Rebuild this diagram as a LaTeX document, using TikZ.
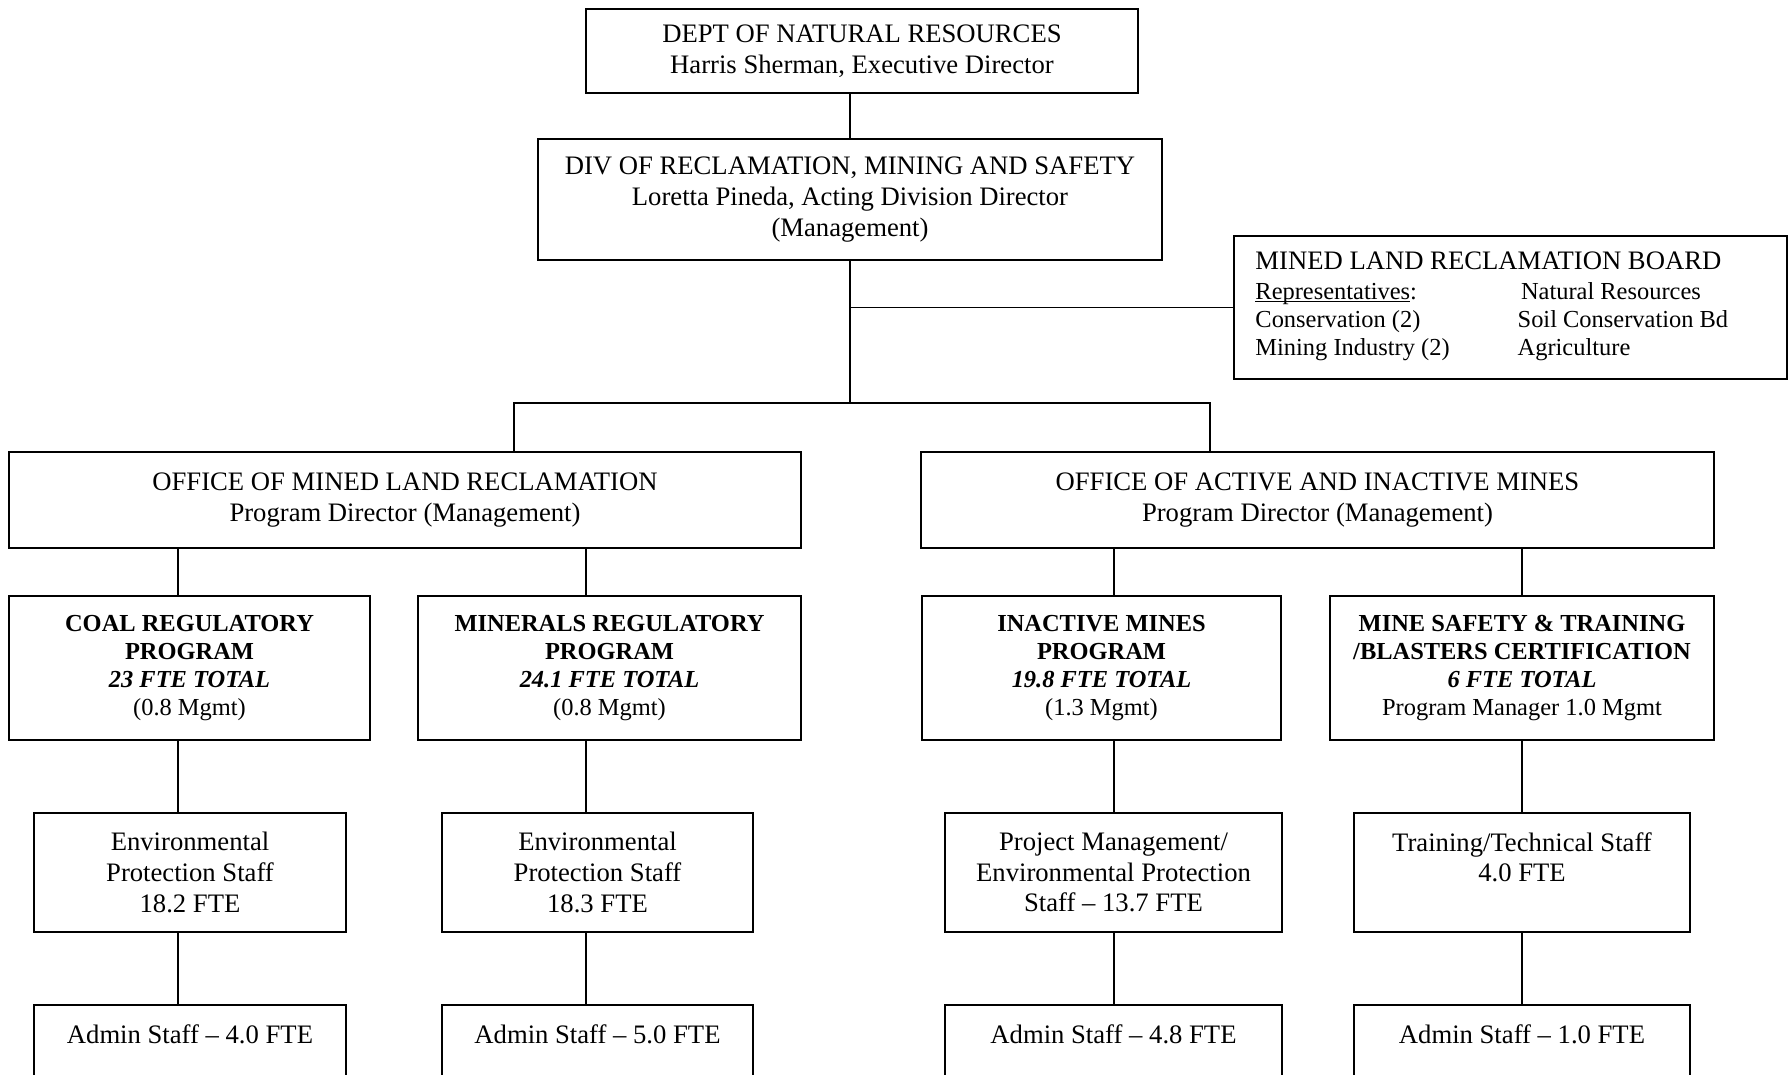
\documentclass[tikz,border=0pt]{standalone}
\usepackage{fontspec}
\setmainfont{Liberation Serif}
\newcommand{\undr}[1]{\leavevmode\setbox0\hbox{#1}\rlap{\rule[-1.3pt]{\wd0}{0.5pt}}#1}

\begin{document}
\begin{tikzpicture}[x=0.45pt,y=-0.45pt,
	box/.style={draw,thick,align=center,inner sep=3pt,font=\fontsize{12}{13.8}\selectfont},
	prog/.style={box,minimum height=64.8pt,font=\fontsize{11}{12.5}\selectfont},
	staff/.style={box,minimum height=53.6pt},
	link/.style={thick}]
	\useasboundingbox (0,0) rectangle (1790,1075);
	% department and division
	\node[box,minimum width=248.4pt,minimum height=37.8pt] (dnr) at (862,51) {DEPT OF NATURAL RESOURCES\\Harris Sherman, Executive Director};
	\node[box,minimum width=280.8pt,minimum height=54.5pt] (drms) at (850,199.5) {DIV OF RECLAMATION, MINING AND SAFETY\\Loretta Pineda, Acting Division Director\\(Management)};
	% board
	\node[box,minimum width=248.9pt,minimum height=64.4pt] (board) at (1510.5,307.5) {};
	\node[anchor=base west,inner sep=0pt,font=\fontsize{11}{12.6}\selectfont] (boardtxt) at (1255,269) {\begin{tabular}[t]{@{}p{118pt}@{}l@{}}
		\multicolumn{2}{@{}l@{}}{\fontsize{12}{13.8}\selectfont MINED LAND RECLAMATION BOARD}\\[1pt]
		\undr{Representatives}: & \hspace{1.5pt}Natural Resources\\
		Conservation (2) & Soil Conservation Bd\\
		Mining Industry (2) & Agriculture
	\end{tabular}};
	% offices
	\node[box,minimum width=356.4pt,minimum height=43.2pt] (omlr) at (405,500) {OFFICE OF MINED LAND RECLAMATION\\Program Director (Management)};
	\node[box,minimum width=356.9pt,minimum height=43.2pt] (oaim) at (1317.5,500) {OFFICE OF ACTIVE AND INACTIVE MINES\\Program Director (Management)};
	% programs
	\node[prog,minimum width=162.5pt] (coal) at (189.5,668) {\textbf{COAL REGULATORY}\\\textbf{PROGRAM}\\\textbf{\textit{23 FTE TOTAL}}\\(0.8 Mgmt)};
	\node[prog,minimum width=172.4pt] (minerals) at (609.5,668) {\textbf{MINERALS REGULATORY}\\\textbf{PROGRAM}\\\textbf{\textit{24.1 FTE TOTAL}}\\(0.8 Mgmt)};
	\node[prog,minimum width=161.6pt] (inactive) at (1101.5,668) {\textbf{INACTIVE MINES}\\\textbf{PROGRAM}\\\textbf{\textit{19.8 FTE TOTAL}}\\(1.3 Mgmt)};
	\node[prog,minimum width=172.8pt] (safety) at (1522,668) {\textbf{MINE SAFETY \& TRAINING}\\\textbf{/BLASTERS CERTIFICATION}\\\textbf{\textit{6 FTE TOTAL}}\\Program Manager 1.0 Mgmt};
	% staff
	\node[staff,minimum width=140.4pt] (envc) at (190,872.5) {Environmental\\Protection Staff\\18.2 FTE};
	\node[staff,minimum width=140pt] (envm) at (597.5,872.5) {Environmental\\Protection Staff\\18.3 FTE};
	\node[staff,minimum width=151.7pt] (projm) at (1113.5,872.5) {Project Management/\\Environmental Protection\\Staff -- 13.7 FTE};
	\node[staff,minimum width=151.2pt] (train) at (1522,872.5) {Training/Technical Staff\\4.0 FTE\\~};
	% admin
	\node[staff,minimum width=140.4pt] (admc) at (190,1064.5) {Admin Staff -- 4.0 FTE\\~\\~};
	\node[staff,minimum width=140pt] (admm) at (597.5,1064.5) {Admin Staff -- 5.0 FTE\\~\\~};
	\node[staff,minimum width=151.7pt] (admi) at (1113.5,1064.5) {Admin Staff -- 4.8 FTE\\~\\~};
	\node[staff,minimum width=151.2pt] (adms) at (1522,1064.5) {Admin Staff -- 1.0 FTE\\~\\~};
	% connectors
	\coordinate (jl) at (514,403);
	\coordinate (jr) at (1210,403);
	\coordinate (c1) at (178,0);
	\coordinate (c2) at (586,0);
	\coordinate (c3) at (1114,0);
	\coordinate (c4) at (1522,0);
	\draw[link] (drms.north) -- (drms.north |- dnr.south);
	\draw[link] (drms.south) -- (drms.south |- jl);
	\draw[link] (board.west) -- (board.west -| drms.south);
	\draw[link] (jl |- omlr.north) -- (jl) -- (jr) -- (jr |- oaim.north);
	\foreach \c/\o/\p/\s/\a in {c1/omlr/coal/envc/admc,c2/omlr/minerals/envm/admm,c3/oaim/inactive/projm/admi,c4/oaim/safety/train/adms}{
		\draw[link] (\o.south -| \c) -- (\p.north -| \c);
		\draw[link] (\p.south -| \c) -- (\s.north -| \c);
		\draw[link] (\s.south -| \c) -- (\a.north -| \c);
	}
\end{tikzpicture}
\end{document}
